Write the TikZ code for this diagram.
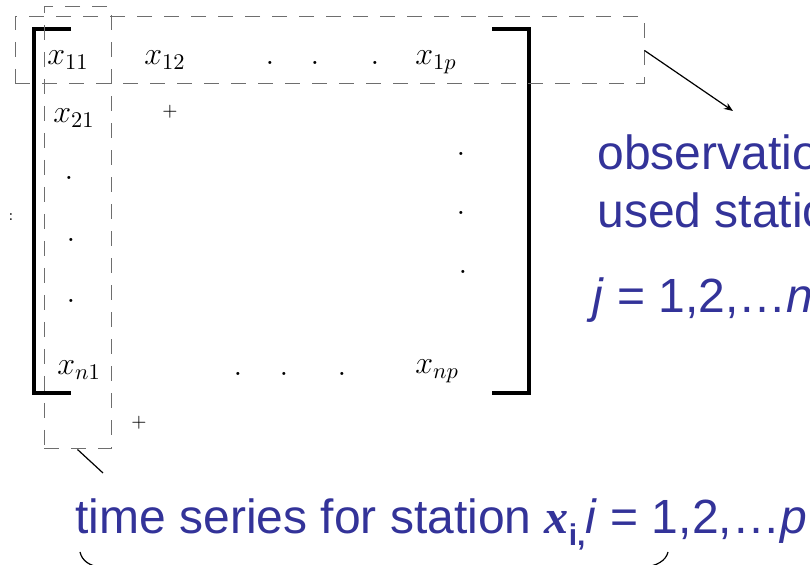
\RequirePackage{fix-cm}
\documentclass[tikz,border=0pt]{standalone}
\usepackage{fontspec}
\setmainfont{Liberation Sans}
\newfontfamily\timesfont{Liberation Serif}
\usepackage{tikz}
\usetikzlibrary{arrows.meta,fit,positioning}
\definecolor{obs-blue}{HTML}{333399}
\definecolor{box-gray}{HTML}{6E6E6E}
\tikzset{
  entry/.style={
    anchor=base west, inner sep=0pt,
    font=\fontsize{16}{18}\selectfont
  },
  mdot/.style={
    anchor=base, inner sep=0pt,
    font=\fontsize{16}{18}\selectfont
  },
  plussign/.style={
    inner sep=0pt, font=\fontsize{9.5}{10}\selectfont
  },
  dashbox/.style={
    draw=box-gray, line width=0.5pt,
    dash pattern=on 7.5pt off 6pt, inner sep=0pt
  },
  bracket/.style={
    line width=1.6pt, draw=black
  },
  note/.style={
    anchor=base west, inner sep=0pt, text=obs-blue,
    font=\fontsize{24}{29}\selectfont
  },
}

\begin{document}
\begin{tikzpicture}[
  x=0.5pt, y=-0.5pt,
  pointer/.style={-{Stealth[length=4.5pt,width=3.5pt]}, line width=0.6pt},
  curl/.style={line width=0.6pt}
]
  \useasboundingbox (0,0) rectangle (810,565);
  \clip (0,0) rectangle (810,565);

  % data matrix
  \node[entry] (e11) at (47,65)  {$x_{11}$};
  \node[entry] (e12) at (144,65) {$x_{12}$};
  \node[entry] (e1p) at (415,65) {$x_{1p}$};
  \node[entry] (e21) at (53,123) {$x_{21}$};
  \node[entry] (en1) at (57,375) {$x_{n1}$};
  \node[entry] (enp) at (415,374) {$x_{np}$};

  \foreach \px/\py in {270/65, 315/65, 375/65,
                       69/180, 71/242, 71/303,
                       461/156, 461/215, 463/274,
                       238/376, 284/376, 342/376}
    \node[mdot] at (\px,\py) {$.$};

  \node[plussign] (plusa) at (170,112) {$+$};
  \node[plussign] (plusb) at (139,423) {$+$};
  \node[inner sep=0pt, font=\fontsize{8}{8}\selectfont] (colon) at (11,217) {$:$};

  % brackets
  \draw[bracket] (71,29) -- (34,29) -- (34,393) -- (71,393);
  \draw[bracket] (492,29) -- (529,29) -- (529,393) -- (492,393);

  % row and column boxes
  \node[dashbox, fit={(15,17) (644,84)}] (rowbox) {};
  \node[dashbox, fit={(44,7) (111,449)}] (colbox) {};

  % labels
  \node[note] (obs)   at (597,170) {observations};
  \node[note] (used)  at (597,228) {used stations};
  \node[note] (jrng)  at (592,313) {\textit{j} = 1,2,…\textit{n}};
  \node[note] (tser)  at (75,534)
    {time series for station {\timesfont\bfseries\itshape x}\raisebox{-0.45ex}{\fontsize{15}{16}\selectfont\bfseries i,}\textit{i} = 1,2,…\textit{p}};

  \coordinate (obsTip) at (733,111);
  \coordinate (serTip) at (103,473);
  \draw[pointer] (rowbox.east) -- (obsTip);
  \draw[curl] (colbox.south) -- (serTip);

  \draw[curl] (80,552) .. controls (82,561) and (90,566) .. (100,567);
  \draw[curl] (668,552) .. controls (666,561) and (656,566) .. (645,567);
\end{tikzpicture}
\end{document}
